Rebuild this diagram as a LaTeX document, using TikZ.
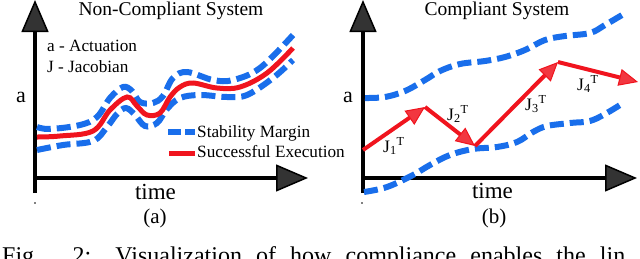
\documentclass[tikz,border=0pt]{standalone}
\usepackage{fontspec}
\setmainfont{Liberation Serif}
\usetikzlibrary{arrows.meta}
\definecolor{mblue}{RGB}{25,110,235}
\definecolor{mred}{RGB}{240,20,30}
\begin{document}
\begin{tikzpicture}[x=1pt,y=-1pt,
  axis/.style={line width=4pt,-{Triangle[length=32pt,width=27pt,line width=1.5pt,fill=black!80]}},
  margin/.style={mblue,line width=6pt,dash pattern=on 14pt off 6pt},
  exec/.style={mred,line width=5pt},
  jarrow/.style={mred,line width=4pt,-{Triangle[length=19pt,width=17pt,line width=1pt,fill=mred!85]}},
  lbl/.style={inner sep=0pt,anchor=base west,font=\fontsize{17.2}{20}\selectfont},
  title/.style={inner sep=0pt,anchor=base,font=\fontsize{19.5}{22}\selectfont},
  axlbl/.style={inner sep=0pt,anchor=base west,font=\fontsize{22}{24}\selectfont},
  timelbl/.style={inner sep=0pt,anchor=base,font=\fontsize{23}{26}\selectfont},
  sublbl/.style={inner sep=0pt,anchor=base,font=\fontsize{21}{24}\selectfont},
  jlbl/.style={inner sep=0pt,anchor=base west,font=\fontsize{17.5}{20}\selectfont},
  dotmark/.style={circle,fill=black,inner sep=0pt,minimum size=1.6pt}
]
\useasboundingbox (0,0) rectangle (640,258);
\clip (0,0) rectangle (640,258);

% ---------------- panel (a) ----------------
\coordinate (ay0) at (35,193);
\coordinate (ay1) at (35,0);
\coordinate (ax0) at (35,178);
\coordinate (ax1) at (308,178);
\draw[axis] (ay0) -- (ay1);
\draw[axis] (ax0) -- (ax1);

\draw[margin] plot[smooth,tension=0.6] coordinates {(37,127) (50,129) (80,125) (97,117) (110,98) (123,87) (132,91) (140,102) (153,103) (163,96) (173,78) (187,72) (213,80) (233,80) (260,68) (293,35)};
\draw[margin] plot[smooth,tension=0.6] coordinates {(37,150) (63,145) (93,141) (107,127) (117,114) (126,108) (135,115) (145,126) (157,123) (167,109) (180,98) (200,95) (227,97) (247,95) (273,78) (293,60)};
\draw[exec] plot[smooth,tension=0.6] coordinates {(37,137) (60,136) (93,131) (110,110) (127,97) (137,106) (147,115) (160,113) (170,97) (180,87) (193,83) (217,88) (240,87) (267,73) (293,48)};

\node[title] (ta) at (171,15) {Non-Compliant System};
\node[lbl] (la) at (47,51) {a - Actuation};
\node[lbl] (lj) at (47,72) {J - Jacobian};
\node[axlbl] (aa) at (16,102) {a};
\node[timelbl] (tma) at (155.5,199) {time};
\node[sublbl] (sa) at (155,223) {(a)};
\node[dotmark] (da) at (35,203) {};

\coordinate (lg1a) at (168,132);
\coordinate (lg1b) at (195,132);
\coordinate (lg2a) at (169,153);
\coordinate (lg2b) at (195,153);
\draw[margin,dash pattern=on 13pt off 4pt] (lg1a) -- (lg1b);
\draw[exec] (lg2a) -- (lg2b);
\node[lbl] (lsm) at (197,137) {Stability Margin};
\node[lbl] (lse) at (197,157) {Successful Execution};

% ---------------- panel (b) ----------------
\coordinate (by0) at (363,193);
\coordinate (by1) at (363,0);
\coordinate (bx0) at (363,178);
\coordinate (bx1) at (637,178);
\draw[axis] (by0) -- (by1);
\draw[axis] (bx0) -- (bx1);

\draw[margin] plot[smooth,tension=0.6] coordinates {(365,98) (385,97) (405,91) (425,80) (440,71) (460,64) (485,61) (505,57) (525,50) (545,40) (565,36) (590,33) (605,25) (622,15)};
\draw[margin] plot[smooth,tension=0.6] coordinates {(364,192) (387,187) (413,175) (430,165) (450,155) (473,149) (497,147) (517,142) (533,132) (547,126) (570,123) (593,120) (620,105)};

\coordinate (p0) at (363,150);
\coordinate (p1) at (425,107);
\coordinate (p2) at (475,146);
\coordinate (p3) at (558,62);
\coordinate (p4) at (638,82);
\draw[jarrow] (p0) -- (p1);
\draw[jarrow] (p1) -- (p2);
\draw[jarrow] (p2) -- (p3);
\draw[jarrow] (p3) -- (p4);

\node[jlbl] (j1) at (383,152) {J\textsubscript{1}\textsuperscript{T}};
\node[jlbl] (j2) at (447,120) {J\textsubscript{2}\textsuperscript{T}};
\node[jlbl] (j3) at (525,110) {J\textsubscript{3}\textsuperscript{T}};
\node[jlbl] (j4) at (577,90) {J\textsubscript{4}\textsuperscript{T}};

\node[title] (tb) at (497,15) {Compliant System};
\node[axlbl] (ab) at (343,102) {a};
\node[timelbl] (tmb) at (492.5,198) {time};
\node[sublbl] (sb) at (494,223) {(b)};
\node[dotmark] (db) at (362,203) {};

% ---------------- caption (cut off, as in the reference) ----------------
\node[inner sep=0pt,anchor=base west,font=\fontsize{24}{28}\selectfont] (cap) at (2,263)
  {\makebox[623pt][s]{Fig. 2: Visualization of how compliance enables the lin}};
\end{tikzpicture}
\end{document}
